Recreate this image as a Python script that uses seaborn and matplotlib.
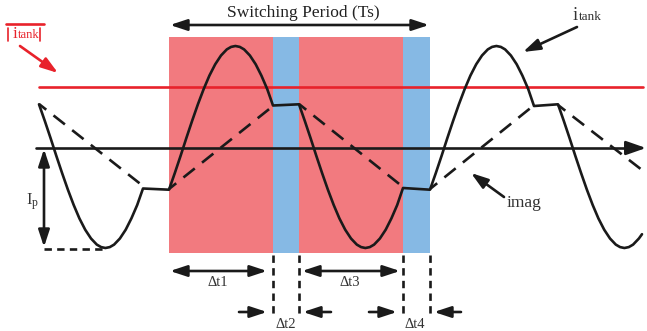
import matplotlib
matplotlib.use("Agg")
import matplotlib.pyplot as plt
import numpy as np
import pandas as pd
import seaborn as sns

# ---- data (pixel-space schematic values) ----
# tank current (solid curve)
itank_x = [39, 44.8, 50.6, 56.3, 62.1, 67.9, 73.7, 79.4, 85.2, 91.0, 96.8, 101.1, 105.4, 109.8, 114.1, 119.9, 125.7, 131.4, 137.2, 143,
           169, 174.8, 180.6, 186.3, 192.1, 197.9, 203.7, 209.4, 215.2, 221.0, 226.8, 231.1, 235.4, 239.8, 244.1, 249.9, 255.7, 261.4, 267.2, 273,
           299, 304.8, 310.6, 316.3, 322.1, 327.9, 333.7, 339.4, 345.2, 351.0, 356.8, 361.1, 365.4, 369.8, 374.1, 379.9, 385.7, 391.4, 397.2, 403,
           430, 435.8, 441.6, 447.3, 453.1, 458.9, 464.7, 470.4, 476.2, 482.0, 487.8, 492.1, 496.4, 500.8, 505.1, 510.9, 516.7, 522.4, 528.2, 534,
           558, 563.8, 569.6, 575.3, 581.1, 586.9, 592.7, 598.4, 604.2, 610.0, 615.8, 620.1, 624.4, 628.8, 633.1, 638.9, 642]
itank_y = [104.3, 120.9, 138.2, 155.8, 173.1, 189.7, 205.0, 218.4, 229.7, 238.5, 244.6, 247.1, 248.0, 247.1, 244.6, 238.5, 229.7, 218.4, 205.0, 188.5,
           189.7, 173.1, 155.8, 138.2, 120.9, 104.3, 89.0, 75.6, 64.3, 55.5, 49.4, 46.9, 46.0, 46.9, 49.4, 55.5, 64.3, 75.6, 89.0, 105.5,
           104.3, 120.9, 138.2, 155.8, 173.1, 189.7, 205.0, 218.4, 229.7, 238.5, 244.6, 247.1, 248.0, 247.1, 244.6, 238.5, 229.7, 218.4, 205.0, 188.0,
           189.7, 173.1, 155.8, 138.2, 120.9, 104.3, 89.0, 75.6, 64.3, 55.5, 49.4, 46.9, 46.0, 46.9, 49.4, 55.5, 64.3, 75.6, 89.0, 106.0,
           104.3, 120.9, 138.2, 155.8, 173.1, 189.7, 205.0, 218.4, 229.7, 238.5, 244.6, 247.1, 248.0, 247.1, 244.6, 238.5, 234.2]
# magnetizing current (dashed segments)
imag_x0 = [39, 169, 299, 430, 558]
imag_y0 = [104, 189, 104, 189, 105]
imag_x1 = [143, 273, 403, 533, 642]
imag_y1 = [186, 106, 187, 106, 170]
# switching intervals
interval_edges = [169, 273, 299, 403, 430]
interval_colors = ["#F27A7F", "#86B9E4", "#F27A7F", "#86B9E4"]
dt_labels = ["\u0394t1", "\u0394t2", "\u0394t3", "\u0394t4"]

sns.set_theme(style="white")
plt.rcParams["font.family"] = ["Liberation Serif", "DejaVu Serif"]

fig = plt.figure(figsize=(6.47, 3.31), dpi=100)
ax = fig.add_axes([0, 0, 1, 1])
ax.set_xlim(0, 647)
ax.set_ylim(331, 0)
ax.axis("off")

TOP, BOT = 37, 253
# shaded intervals
for i, c in enumerate(interval_colors):
    ax.fill_between([interval_edges[i], interval_edges[i + 1]], TOP, BOT,
                    color=c, lw=0, zorder=1)

# red level line and black time axis
ax.plot([39, 643], [87, 87], color="#E8222B", lw=1.9, zorder=3)
ax.plot([36, 636], [148, 148], color="#1a1a1a", lw=1.9, zorder=3)
ax.annotate("", xy=(646, 148), xytext=(630, 148),
            arrowprops=dict(arrowstyle="-|>,head_length=1.0,head_width=0.35",
                            color="#1a1a1a", lw=1.9, shrinkA=0, shrinkB=0), zorder=3)

# curves
df = pd.DataFrame({"x": itank_x, "y": itank_y})
sns.lineplot(data=df, x="x", y="y", sort=False, estimator=None, color="#1a1a1a",
             lw=1.9, ax=ax, zorder=5, solid_joinstyle="round", solid_capstyle="round")
for xa, ya, xb, yb in zip(imag_x0, imag_y0, imag_x1, imag_y1):
    ax.plot([xa, xb], [ya, yb], color="#1a1a1a", lw=1.9,
            linestyle=(2, (5.5, 3.5)), zorder=5)
ax.set_xlim(0, 647)
ax.set_ylim(331, 0)
ax.set_xlabel("")
ax.set_ylabel("")

arrow_kw = dict(color="#1a1a1a", lw=1.9, shrinkA=0, shrinkB=0)
head = "head_length=0.85,head_width=0.28"

# switching period arrow
ax.annotate("", xy=(170, 25), xytext=(429, 25),
            arrowprops=dict(arrowstyle="<|-|>," + head, **arrow_kw))
ax.text(303, 13, "Switching Period (Ts)", ha="center", va="center",
        fontsize=12.5, color="#222222")

# vertical dashed markers
for xv in interval_edges[1:]:
    ax.plot([xv, xv], [255, 316], color="#1a1a1a", lw=1.9,
            linestyle=(0, (2.8, 2.0)), zorder=4)

# dt1 / dt3 double arrows
ax.annotate("", xy=(170, 271), xytext=(267, 271),
            arrowprops=dict(arrowstyle="<|-|>," + head, **arrow_kw))
ax.annotate("", xy=(302, 271), xytext=(400, 271),
            arrowprops=dict(arrowstyle="<|-|>," + head, **arrow_kw))
ax.text(218, 283, dt_labels[0], ha="center", va="center", fontsize=10.5, color="#333333")
ax.text(350, 283, dt_labels[2], ha="center", va="center", fontsize=10.5, color="#333333")

# dt2 / dt4 inward arrows
for tail, tip in [((239, 312), (267, 312)), ((331, 312), (303, 312)),
                  ((369, 312), (397, 312)), ((461, 312), (434, 312))]:
    ax.annotate("", xy=tip, xytext=tail,
                arrowprops=dict(arrowstyle="-|>," + head, **arrow_kw))
ax.text(286, 324, dt_labels[1], ha="center", va="center", fontsize=10.5, color="#333333")
ax.text(415, 324, dt_labels[3], ha="center", va="center", fontsize=10.5, color="#333333")

# Ip marker
ax.annotate("", xy=(44, 149), xytext=(44, 247),
            arrowprops=dict(arrowstyle="<|-|>," + head, **arrow_kw))
ax.plot([44, 103], [249, 249], color="#1a1a1a", lw=1.9, linestyle=(0, (2.8, 2.0)))
ax.text(29.5, 200, "I", ha="center", va="center", fontsize=12, color="#333333")
ax.text(34.5, 203, "p", ha="center", va="center", fontsize=8.5, color="#333333")

# itank label (top right)
ax.text(573, 16, "i", ha="left", va="center", fontsize=13.5, color="#333333")
ax.text(578.5, 17.5, "tank", ha="left", va="center", fontsize=9.5, color="#333333")
ax.annotate("", xy=(523, 52), xytext=(577, 27),
            arrowprops=dict(arrowstyle="-|>," + head, **arrow_kw))

# imag label
ax.text(524, 203, "imag", ha="center", va="center", fontsize=12.5, color="#333333")
ax.annotate("", xy=(471, 173), xytext=(504, 197),
            arrowprops=dict(arrowstyle="-|>," + head, **arrow_kw))

# top-left red legend |itank|
red = "#E8222B"
ax.plot([6, 44], [24, 24], color=red, lw=1.9)
ax.plot([8, 8], [28, 41], color=red, lw=1.2)
ax.plot([40, 40], [28, 41], color=red, lw=1.2)
ax.text(13, 34, "i", ha="left", va="center", fontsize=12.5, color=red)
ax.text(17.5, 35.5, "tank", ha="left", va="center", fontsize=9, color=red)
ax.annotate("", xy=(58, 73), xytext=(20, 46),
            arrowprops=dict(arrowstyle="-|>," + head, color=red, lw=1.9,
                            shrinkA=0, shrinkB=0))

fig.savefig("out.png", dpi=100)
